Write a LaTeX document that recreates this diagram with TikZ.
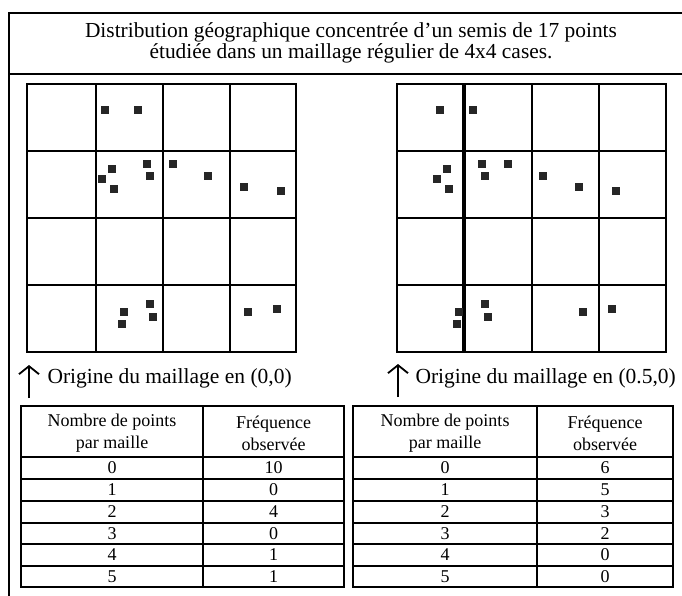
\documentclass[tikz,border=0pt]{standalone}
\usepackage{fontspec}
\setmainfont{Liberation Serif}
\usetikzlibrary{arrows.meta}
\begin{document}
\begin{tikzpicture}[x=1pt,y=-1pt,
  ln/.style={line width=1.9pt},
  thickln/.style={line width=3.2pt},
  dot/.style={rectangle, fill=black!85, draw=none, minimum size=8pt, inner sep=0pt},
  titlefont/.style={font=\fontsize{21.4}{21.5}\selectfont},
  labfont/.style={font=\fontsize{21.5}{22}\selectfont},
  headfont/.style={font=\fontsize{18}{22}\selectfont, align=center},
  cellfont/.style={font=\fontsize{18}{20}\selectfont},
  origarrow/.style={line width=1.8pt, -{Straight Barb[length=8pt,width=20pt,line width=1.8pt]}}
]
\useasboundingbox (0,0) rectangle (682,595);
\clip (0,0) rectangle (682,595);
% outer frame
\draw[ln] (9,13) rectangle (690,605);
\draw[ln] (9,74) -- (690,74);
\node[titlefont, align=center] (title) at (351,43)
  {Distribution géographique concentrée d'un semis de 17 points\\étudiée dans un maillage régulier de 4x4 cases.};
% left grid
\draw[ln] (27,84) rectangle (296,352);
\foreach \x in {96,163,230} \draw[ln] (\x,84) -- (\x,352);
\foreach \y in {151,218,285} \draw[ln] (27,\y) -- (296,\y);
% right grid
\draw[ln] (397,84) rectangle (666,352);
\draw[thickln] (464,84) -- (464,352);
\foreach \x in {532,599} \draw[ln] (\x,84) -- (\x,352);
\foreach \y in {151,218,285} \draw[ln] (397,\y) -- (666,\y);
% points
\foreach \px/\py [count=\i] in {105/110, 137.7/110,
  112.3/169.3, 102.3/179.3, 114.3/189.3, 147.3/164, 150/175.7, 172.7/164, 208.3/175.7, 243.7/187.3, 280.7/191,
  124.3/311.7, 122.3/323.7, 150/304, 153.3/317.3, 247.7/312, 276.7/309.3}
{
  \node[dot] (L\i) at (\px,\py) {};
  \node[dot] (R\i) at (\px+335,\py) {};
}
% origin arrows and labels
\coordinate (aL0) at (29,398);
\coordinate (aL1) at (29,365);
\draw[origarrow] (aL0) -- (aL1);
\node[labfont, anchor=west] (labL) at (44,378) {Origine du maillage en (0,0)};
\coordinate (aR0) at (398,397);
\coordinate (aR1) at (398,364);
\draw[origarrow] (aR0) -- (aR1);
\node[labfont, anchor=west] (labR) at (412,378) {Origine du maillage en (0.5,0)};
% tables
\foreach \xa/\xb/\xc/\tb in {21/203/344/L, 353/537/673/R} {
  \draw[ln] (\xa,406) rectangle (\xc,587);
  \draw[ln] (\xb,406) -- (\xb,587);
  \foreach \y in {457,479,501,523,544,566} \draw[ln] (\xa,\y) -- (\xc,\y);
  \node[headfont] (h1\tb) at ({(\xa+\xb)/2},433) {Nombre de points\\par maille};
  \node[headfont] (h2\tb) at ({(\xb+\xc)/2},433) {Fréquence\\observée};
}
\foreach \n/\a/\b/\yc in {0/10/6/468, 1/0/5/490, 2/4/3/512, 3/0/2/533.5, 4/1/0/555, 5/1/0/576.5} {
  \node[cellfont] (nL\n) at (112,\yc) {\n};
  \node[cellfont] (fL\n) at (273.5,\yc) {\a};
  \node[cellfont] (nR\n) at (445,\yc) {\n};
  \node[cellfont] (fR\n) at (605,\yc) {\b};
}
\end{tikzpicture}
\end{document}
